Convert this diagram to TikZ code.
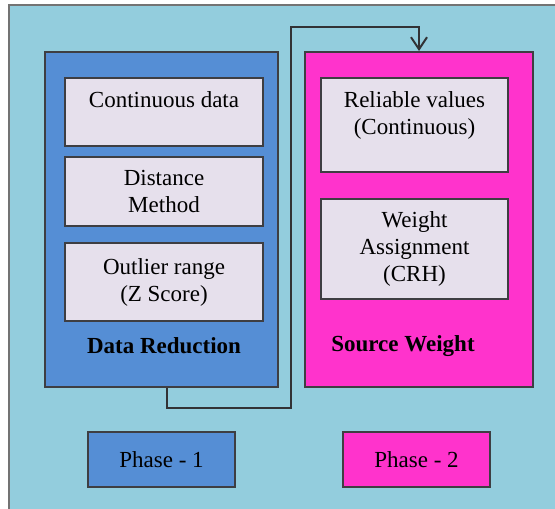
\documentclass[tikz,border=0pt]{standalone}
\usepackage{fontspec}
\setmainfont{Liberation Serif}
\usetikzlibrary{arrows.meta}

\definecolor{bgblue}{RGB}{147,205,221}
\definecolor{reduceblue}{RGB}{85,142,213}
\definecolor{weightpink}{RGB}{255,51,204}
\definecolor{itemgray}{RGB}{230,224,236}
\definecolor{edgegray}{RGB}{62,62,66}

\newcommand*{\txtfont}{\fontsize{11.5pt}{13.5pt}\selectfont}

\begin{document}
\begin{tikzpicture}
[
	x=0.5pt,y=-0.5pt,
	panel/.style={draw=edgegray,line width=1pt,minimum height=167.5pt},
	item/.style={draw=edgegray,fill=itemgray,line width=1pt,align=center,font=\txtfont,inner sep=0pt},
	phasebox/.style={draw=edgegray,line width=1pt,minimum width=73.5pt,minimum height=27.5pt,font=\txtfont},
	caption/.style={font=\txtfont\bfseries},
	link/.style={draw=edgegray!80!black,line width=1pt}
]

	% background
	\clip (0,0) rectangle (555,508);
	\fill[white] (0,0) rectangle (555,508);
	\draw[fill=bgblue,draw=gray!90!black,line width=1.3pt] (9,5) rectangle (570,520);

	% phase 1
	\node[panel,fill=reduceblue,minimum width=116.5pt] (reduce) at (161.5,219.5) {};
	\node[item,minimum width=99pt,minimum height=34pt] (contdata) at (164,112) {Continuous data\\[-5pt]\strut};
	\node[item,minimum width=99pt,minimum height=34.5pt] (distance) at (164,191.5) {Distance\\Method};
	\node[item,minimum width=99pt,minimum height=39pt] (outlier) at (164,282) {Outlier range\\(Z Score)};
	\node[caption] (reducelbl) at (164,346) {Data Reduction};

	% phase 2
	\node[panel,fill=weightpink,minimum width=114pt] (weight) at (419,219.5) {};
	\node[item,minimum width=93.5pt,minimum height=47pt] (reliable) at (414.5,125) {Reliable values\\(Continuous)\\[-6pt]\strut};
	\node[item,minimum width=93.5pt,minimum height=50pt] (assign) at (414.5,249) {Weight\\Assignment\\(CRH)};
	\node[caption] (weightlbl) at (403,346) {Source Weight};

	% legend
	\node[phasebox,fill=reduceblue] (phaseone) at (161.5,459.5) {Phase - 1};
	\node[phasebox,fill=weightpink] (phasetwo) at (416.5,459.5) {Phase - 2};

	% connector
	\coordinate (turnlow) at (167,408);
	\coordinate (turnhigh) at (291,27);
	\draw[link,-{Straight Barb[length=6pt,width=8pt]}] (reduce.south -| turnlow) -- (turnlow) -| (turnhigh) -| (weight.north);

\end{tikzpicture}
\end{document}
